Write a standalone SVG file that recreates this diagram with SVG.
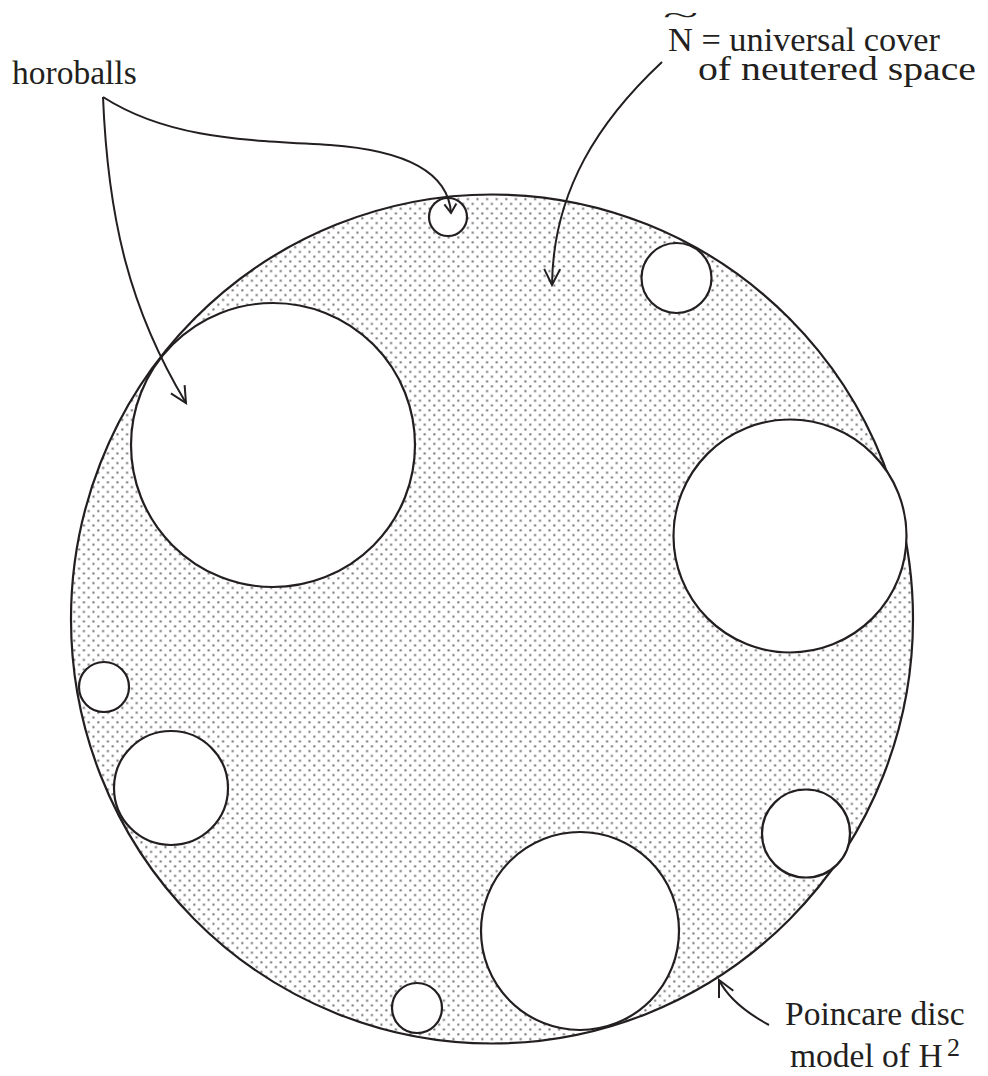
<svg xmlns="http://www.w3.org/2000/svg" width="988" height="1076" viewBox="0 0 988 1076">
<style>
.t{font-family:"Liberation Serif","Times New Roman",serif;font-size:33.5px;fill:#231f20}
.c{fill:#fff;stroke:#231f20;stroke-width:2.2}
.ln{fill:none;stroke:#231f20;stroke-width:2}
</style>
<defs>
<pattern id="dots" width="9.6" height="9.6" patternUnits="userSpaceOnUse">
<rect x="1.3" y="1.3" width="2" height="2" fill="#6a6a6a"/>
<rect x="6.1" y="6.1" width="2" height="2" fill="#6a6a6a"/>
</pattern>
<marker id="ah" markerUnits="userSpaceOnUse" markerWidth="40" markerHeight="40" refX="0" refY="0" viewBox="-20 -20 40 40" orient="auto" overflow="visible">
<path d="M-16,-8 L0,0 L-16,8" fill="none" stroke="#231f20" stroke-width="2"/>
</marker>
<marker id="ahs" markerUnits="userSpaceOnUse" markerWidth="40" markerHeight="40" refX="0" refY="0" viewBox="-20 -20 40 40" orient="auto" overflow="visible">
<path d="M-9,-6 L0,0 L-9,6" fill="none" stroke="#231f20" stroke-width="2"/>
</marker>
</defs>
<rect width="988" height="1076" fill="#fff"/>
<g id="disc">
<ellipse cx="492" cy="619" rx="421" ry="424.5" fill="url(#dots)" stroke="#231f20" stroke-width="2.2"/>
</g>
<g id="horoballs">
<circle id="hb1" class="c" cx="448" cy="217" r="19"/>
<circle id="hb2" class="c" cx="676.5" cy="278" r="35"/>
<circle id="hb3" class="c" cx="273" cy="445" r="142"/>
<circle id="hb4" class="c" cx="790" cy="536" r="116.5"/>
<circle id="hb5" class="c" cx="104" cy="687" r="25"/>
<circle id="hb6" class="c" cx="171" cy="788" r="57"/>
<circle id="hb7" class="c" cx="806" cy="833.5" r="44"/>
<circle id="hb8" class="c" cx="580" cy="931" r="99"/>
<circle id="hb9" class="c" cx="417" cy="1008" r="25"/>
</g>
<g id="connectors">
<path class="ln" d="M103,97 C170,140 250,140 330,145 C400,150 448,170 451,213" marker-end="url(#ahs)"/>
<path class="ln" d="M103,97 C108,220 130,310 186,403" marker-end="url(#ah)"/>
<path class="ln" d="M662,62 C600,120 553,190 552,285" marker-end="url(#ah)"/>
<path class="ln" d="M769,1025 C745,1012 728,998 719,980" marker-end="url(#ah)"/>
</g>
<g id="labels">
<text class="t" x="12" y="84">horoballs</text>
<text class="t" transform="translate(663,23) scale(2.6,1)" x="0" y="0" style="font-size:25px">~</text>
<text class="t" x="668" y="51" textLength="272" lengthAdjust="spacingAndGlyphs">N = universal cover</text>
<text class="t" x="698" y="80" textLength="278" lengthAdjust="spacingAndGlyphs" style="font-size:34.5px">of neutered space</text>
<text class="t" x="785" y="1025">Poincare disc</text>
<text class="t" x="790" y="1067">model of H</text>
<text class="t" x="947" y="1056" style="font-size:26px">2</text>
</g>
</svg>
